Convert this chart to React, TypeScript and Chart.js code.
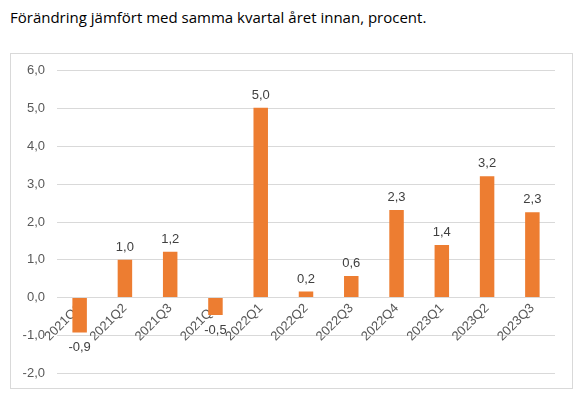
import React, { useEffect, useRef } from "react";
import { Chart, registerables } from "chart.js";

Chart.register(...registerables);

const TITLE = "Förändring jämfört med samma kvartal året innan, procent.";
const categories = [
  "2021Q1", "2021Q2", "2021Q3", "2021Q4", "2022Q1", "2022Q2",
  "2022Q3", "2022Q4", "2023Q1", "2023Q2", "2023Q3",
];
const values = [-0.92, 1.0, 1.21, -0.46, 5.02, 0.16, 0.57, 2.32, 1.39, 3.21, 2.26];
const yMin = -2;
const yMax = 6;
const yStep = 1;

const BAR_COLOR = "#ED7D31";
const TEXT_COLOR = "#595959";
const LABEL_COLOR = "#404040";
const GRID_COLOR = "#D9D9D9";
const FONT = "'Liberation Sans', Arial, sans-serif";

const fmt = (v: number) => v.toFixed(1).replace(".", ",");

const valueLabels = {
  id: "valueLabels",
  afterDatasetsDraw(chart: any) {
    const ctx = chart.ctx;
    const meta = chart.getDatasetMeta(0);
    ctx.save();
    ctx.font = `13px ${FONT}`;
    ctx.fillStyle = LABEL_COLOR;
    ctx.textAlign = "center";
    meta.data.forEach((el: any, i: number) => {
      const v = values[i];
      if (v >= 0) {
        ctx.textBaseline = "bottom";
        ctx.fillText(fmt(v), el.x, el.y - 6);
      } else {
        ctx.textBaseline = "top";
        ctx.fillText(fmt(v), el.x, el.y + 9);
      }
    });
    ctx.restore();
  },
};

export default function App() {
  const ref = useRef<HTMLCanvasElement>(null);
  useEffect(() => {
    if (!ref.current) return;
    const chart = new Chart(ref.current, {
      type: "bar",
      data: {
        labels: categories,
        datasets: [
          {
            data: values,
            backgroundColor: BAR_COLOR,
            borderWidth: 0,
            barPercentage: 0.32,
            categoryPercentage: 1,
          },
        ],
      },
      options: {
        animation: false,
        responsive: false,
        maintainAspectRatio: false,
        layout: { padding: { top: 0, right: 17, bottom: 0, left: 0 } },
        plugins: {
          legend: { display: false },
          tooltip: { enabled: false },
          title: { display: false },
        },
        scales: {
          x: {
            position: { y: 0 } as any,
            z: 1,
            grid: { display: false, drawTicks: false },
            border: { display: false },
            ticks: {
              color: TEXT_COLOR,
              font: { family: FONT, size: 13 },
              minRotation: 45,
              maxRotation: 45,
              padding: 3,
              autoSkip: false,
            },
            afterFit: (s: any) => {
              s.height = 0;
            },
          },
          y: {
            min: yMin,
            max: yMax,
            grid: { color: GRID_COLOR, drawTicks: false, lineWidth: 1 },
            border: { display: false },
            ticks: {
              stepSize: yStep,
              color: TEXT_COLOR,
              font: { family: FONT, size: 13 },
              padding: 12,
              callback: (v: any) => fmt(Number(v)),
            },
            afterFit: (s: any) => {
              s.width = 46;
            },
          },
        },
      },
      plugins: [valueLabels],
    });
    return () => chart.destroy();
  }, []);

  return (
    <div style={{ position: "fixed", left: 0, top: 0, width: 580, height: 397, background: "#fff" }}>
      <div
        style={{
          position: "absolute",
          left: 10,
          top: 7,
          fontFamily: "'Open Sans', 'Noto Sans', sans-serif",
          fontSize: 15,
          color: "#000",
          whiteSpace: "nowrap",
        }}
      >
        {TITLE}
      </div>
      <div
        style={{
          position: "absolute",
          left: 10,
          top: 53,
          width: 561,
          height: 334,
          border: "1px solid #D9D9D9",
        }}
      />
      <canvas
        ref={ref}
        width={561}
        height={342}
        style={{ position: "absolute", left: 11, top: 51, display: "block" }}
      />
    </div>
  );
}
